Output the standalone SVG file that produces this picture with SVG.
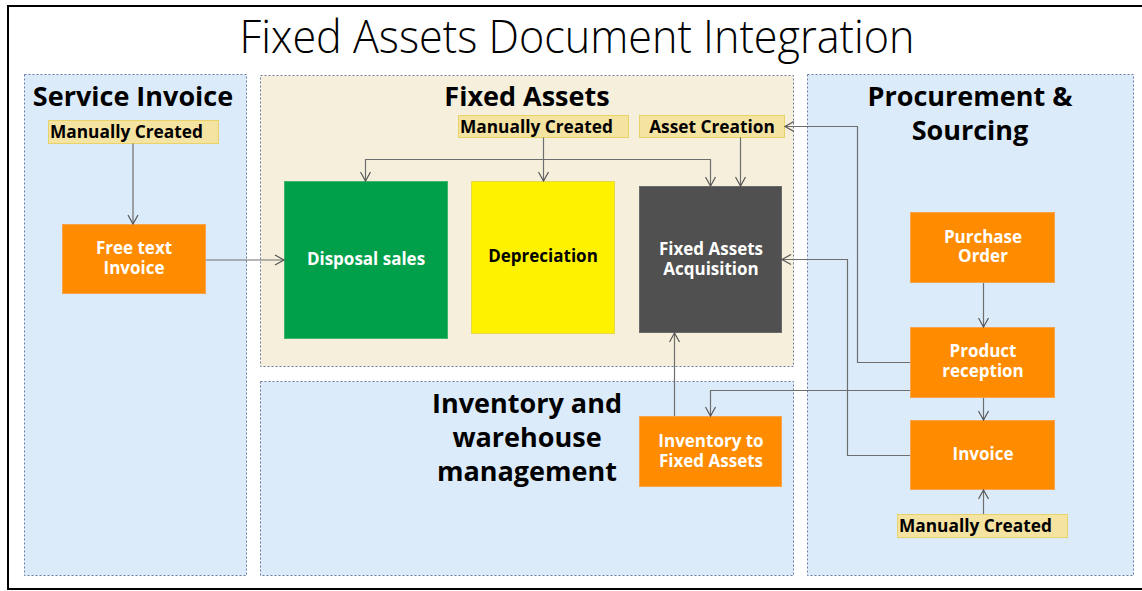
<svg xmlns="http://www.w3.org/2000/svg" width="1142" height="591" viewBox="0 0 1142 591">
<style>
.panel{stroke:#6b7ba3;stroke-width:1;stroke-dasharray:2 2}
.blue{fill:#dcebfa}
.beige{fill:#f5efdc}
.sec{font-family:"Open Sans","Noto Sans",sans-serif;font-weight:700;font-size:27px;fill:#000;text-anchor:middle}
.lbl{fill:#f5e3a2;stroke:#e8d36a;stroke-width:1}
.lt{font-family:"Open Sans","Noto Sans",sans-serif;font-weight:700;font-size:17.3px;fill:#000}
.bt{font-family:"Open Sans","Noto Sans",sans-serif;font-weight:700;font-size:17px;fill:#fff;text-anchor:middle}
.orange{fill:#ff8c00;stroke:#f7a34c;stroke-width:1}
.conn path{fill:none;stroke:#6e6e6e;stroke-width:1.2}
</style>
<defs>
<marker id="arr" markerUnits="userSpaceOnUse" markerWidth="12" markerHeight="12" viewBox="0 0 12 12" refX="10" refY="6" orient="auto">
<path d="M1,1 L10,6 L1,11" fill="none" stroke="#555" stroke-width="1.2"/>
</marker>
</defs>
<rect x="0" y="0" width="1142" height="591" fill="#fff"/>
<rect id="frame" x="8" y="6" width="1145" height="583" fill="#fff" stroke="#000" stroke-width="2"/>
<text id="title" x="577" y="53" font-family="'Open Sans','Lato',sans-serif" font-weight="300" font-size="46" text-anchor="middle" textLength="675" lengthAdjust="spacingAndGlyphs" fill="#000">Fixed Assets Document Integration</text>

<g id="panel-service">
<rect class="panel blue" x="24.5" y="74.5" width="222" height="501"/>
<text class="sec" x="133" y="106">Service Invoice</text>
</g>
<g id="panel-fixed-assets">
<rect class="panel beige" x="260.5" y="75.5" width="533" height="291"/>
<text class="sec" x="527" y="106">Fixed Assets</text>
</g>
<g id="panel-inventory">
<rect class="panel blue" x="260.5" y="381.5" width="533" height="194"/>
<text class="sec" x="527" y="413">Inventory and<tspan x="527" dy="34">warehouse</tspan><tspan x="527" dy="34">management</tspan></text>
</g>
<g id="panel-procurement">
<rect class="panel blue" x="807.5" y="74.5" width="326" height="501"/>
<text class="sec" x="970" y="106">Procurement &amp;<tspan x="970" dy="34">Sourcing</tspan></text>
</g>

<g id="si-manual">
<rect class="lbl" x="48.5" y="120.5" width="170" height="23"/>
<text class="lt" x="50" y="138">Manually Created</text>
</g>
<g id="free-text-invoice">
<rect class="orange" x="62.5" y="224.5" width="143" height="69"/>
<text class="bt" x="134" y="254">Free text<tspan x="134" dy="20">Invoice</tspan></text>
</g>
<g id="fa-manual">
<rect class="lbl" x="458.5" y="115.5" width="170" height="22"/>
<text class="lt" x="460" y="133">Manually Created</text>
</g>
<g id="asset-creation">
<rect class="lbl" x="639.5" y="115.5" width="145" height="22"/>
<text class="lt" x="712" y="133" text-anchor="middle">Asset Creation</text>
</g>
<g id="disposal-sales">
<rect x="284.5" y="181.5" width="163" height="157" fill="#00a04a" stroke="#3fb46e" stroke-width="1"/>
<text class="bt" x="366" y="265">Disposal sales</text>
</g>
<g id="depreciation">
<rect x="471.5" y="181.5" width="143" height="152" fill="#fff200" stroke="#e6d84a" stroke-width="1"/>
<text class="bt" x="543" y="262" style="fill:#000">Depreciation</text>
</g>
<g id="fa-acquisition">
<rect x="639.5" y="186.5" width="142" height="146" fill="#505050" stroke="#6a6a6a" stroke-width="1"/>
<text class="bt" x="711" y="255">Fixed Assets<tspan x="711" dy="20">Acquisition</tspan></text>
</g>
<g id="inventory-to-fa">
<rect class="orange" x="639.5" y="416.5" width="142" height="70"/>
<text class="bt" x="711" y="447">Inventory to<tspan x="711" dy="20">Fixed Assets</tspan></text>
</g>
<g id="purchase-order">
<rect class="orange" x="910.5" y="212.5" width="144" height="70"/>
<text class="bt" x="983" y="243">Purchase<tspan x="983" dy="19">Order</tspan></text>
</g>
<g id="product-reception">
<rect class="orange" x="910.5" y="327.5" width="144" height="70"/>
<text class="bt" x="983" y="357">Product<tspan x="983" dy="20">reception</tspan></text>
</g>
<g id="invoice">
<rect class="orange" x="910.5" y="420.5" width="144" height="69"/>
<text class="bt" x="983" y="460">Invoice</text>
</g>
<g id="proc-manual">
<rect class="lbl" x="897.5" y="514.5" width="170" height="23"/>
<text class="lt" x="899" y="532">Manually Created</text>
</g>

<g id="connectors" class="conn">
<path d="M133,143.5 V224" marker-end="url(#arr)"/>
<path d="M206,260 H284" marker-end="url(#arr)"/>
<path d="M543.5,137.5 V181" marker-end="url(#arr)"/>
<path d="M543.5,159.5 H365.5 V181" marker-end="url(#arr)"/>
<path d="M543.5,159.5 H710.5 V186" marker-end="url(#arr)"/>
<path d="M740.5,137.5 V186" marker-end="url(#arr)"/>
<path d="M910,362.5 H857.5 V126.5 H785" marker-end="url(#arr)"/>
<path d="M910,455.5 H847.5 V259.5 H782" marker-end="url(#arr)"/>
<path d="M674.5,416 V333" marker-end="url(#arr)"/>
<path d="M910,390.5 H710.5 V416" marker-end="url(#arr)"/>
<path d="M983.5,283 V327" marker-end="url(#arr)"/>
<path d="M983.5,398 V420" marker-end="url(#arr)"/>
<path d="M983.5,514 V490" marker-end="url(#arr)"/>
</g>
</svg>
